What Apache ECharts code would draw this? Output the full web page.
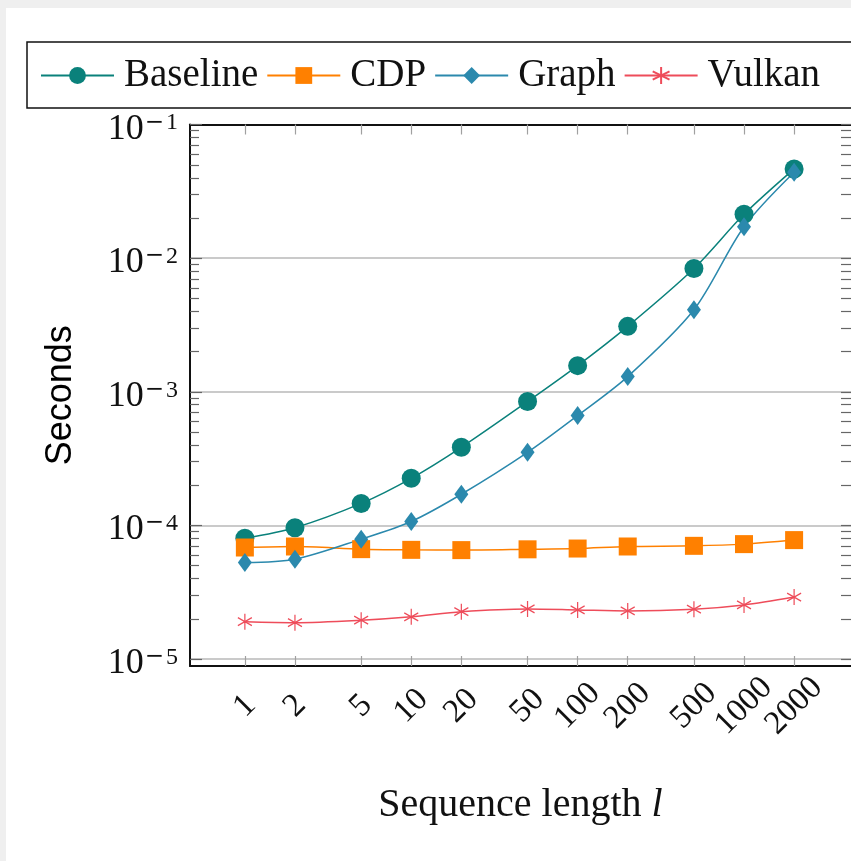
<!DOCTYPE html>
<html>
<head>
    <meta charset="utf-8">
    <title>Sequence length</title>
    <script src="https://cdn.jsdelivr.net/npm/echarts@6/dist/echarts.min.js"></script>
    <style>
        html, body { margin: 0; padding: 0; background: #efefef; }
    </style>
</head>
<body>
    <div id="main" style="width: 851px;height:861px;"></div>
    <script type="text/javascript">
        var seqLength = [1, 2, 5, 10, 20, 50, 100, 200, 500, 1000, 2000];
        var baseline = [8.0e-5, 9.6e-5, 1.46e-4, 2.25e-4, 3.84e-4, 8.45e-4, 1.57e-3, 3.09e-3, 8.37e-3, 2.13e-2, 4.66e-2];
        var cdp      = [6.83e-5, 6.95e-5, 6.64e-5, 6.56e-5, 6.53e-5, 6.62e-5, 6.71e-5, 6.95e-5, 7.03e-5, 7.24e-5, 7.76e-5];
        var graph    = [5.27e-5, 5.58e-5, 7.89e-5, 1.07e-4, 1.71e-4, 3.52e-4, 6.64e-4, 1.30e-3, 4.11e-3, 1.72e-2, 4.40e-2];
        var vulkan   = [1.90e-5, 1.87e-5, 1.95e-5, 2.07e-5, 2.26e-5, 2.37e-5, 2.33e-5, 2.29e-5, 2.36e-5, 2.54e-5, 2.91e-5];
        var names = ['Baseline', 'CDP', 'Graph', 'Vulkan'];
        var decades = [1e-5, 1e-4, 1e-3, 1e-2, 1e-1];

        // minor ticks 2..9 in every decade
        var minorTicks = [];
        for (var d = -5; d < -1; d++) {
            for (var m = 2; m <= 9; m++) {
                minorTicks.push(m * Math.pow(10, d));
            }
        }
        var allTicks = decades.concat(minorTicks);

        var serif = '"Liberation Serif", "DejaVu Serif", serif';
        var colors = ['#0a817b', '#ff8000', '#2b89ad', '#ee4c5a'];

        function pairs(ys) {
            return seqLength.map(function (x, i) { return [x, ys[i]]; });
        }

        var myChart = echarts.init(document.getElementById('main'));

        var xBase = {
            type: 'log',
            logBase: 10,
            min: 0.468,
            max: 4395,
            splitLine: { show: false },
            axisLine: { onZero: false, lineStyle: { color: '#111', width: 2 } },
            axisTick: { inside: true, length: 10, customValues: seqLength, lineStyle: { color: '#a0a0a0', width: 1.2 } }
        };
        var yBase = {
            type: 'log',
            logBase: 10,
            min: 8.86e-6,
            max: 0.1002
        };

        var option = {
            backgroundColor: '#efefef',
            graphic: [{
                type: 'rect',
                z: -10,
                shape: { x: 6, y: 8, width: 860, height: 870 },
                style: { fill: '#fff' }
            }, {
                // legend frame, runs off the right edge like the original
                type: 'rect',
                z: 10,
                shape: { x: 27, y: 42, width: 900, height: 66 },
                style: { fill: 'none', stroke: '#111', lineWidth: 1.5 }
            }],
            color: colors,
            legend: {
                left: 27,
                top: 44,
                padding: [12, 4, 12, 13],
                itemWidth: 73,
                itemHeight: 21,
                itemGap: 8,
                textStyle: { fontFamily: serif, fontSize: 39, color: '#111', padding: [0, 0, 0, 5] },
                data: [
                    { name: 'Baseline' },
                    { name: 'CDP' },
                    { name: 'Graph', textStyle: { padding: [0, 19, 0, 5] } },
                    { name: 'Vulkan' }
                ]
            },
            grid: { left: 190, top: 124.5, right: -2, bottom: 195 },
            xAxis: [
                Object.assign({}, xBase, {
                    position: 'bottom',
                    name: 'Sequence length {i|l}',
                    nameLocation: 'middle',
                    nameGap: 119,
                    nameTextStyle: {
                        fontFamily: serif, fontSize: 40, color: '#111',
                        rich: { i: { fontFamily: serif, fontSize: 40, fontStyle: 'italic', color: '#111' } }
                    },
                    axisLabel: {
                        customValues: seqLength,
                        rotate: 45,
                        align: 'center',
                        verticalAlign: 'middle',
                        margin: 40,
                        fontFamily: serif,
                        fontSize: 33,
                        color: '#111',
                        formatter: function (v) { return String(Math.round(v)); }
                    }
                }),
                Object.assign({}, xBase, {
                    position: 'top',
                    axisLabel: { show: false }
                })
            ],
            yAxis: [
                Object.assign({}, yBase, {
                    position: 'left',
                    name: 'Seconds',
                    nameLocation: 'middle',
                    nameGap: 111,
                    nameRotate: 90,
                    nameTextStyle: { fontFamily: '"Liberation Sans", Arial, sans-serif', fontSize: 36, color: '#000' },
                    axisLine: { show: true, lineStyle: { color: '#111', width: 2 } },
                    axisTick: { inside: true, length: 12, customValues: decades, lineStyle: { color: '#666', width: 1.2 } },
                    splitLine: { show: true, lineStyle: { color: '#b8b8b8', width: 1.5 } },
                    axisLabel: {
                        customValues: decades,
                        margin: 12,
                        padding: [9, 0, 0, 0],
                        color: '#111',
                        formatter: function (v) {
                            return '{b|10}{m|\u2212}{d|' + Math.round(-Math.log10(v)) + '}';
                        },
                        rich: {
                            b: { fontFamily: serif, fontSize: 36, lineHeight: 36, verticalAlign: 'bottom', color: '#111' },
                            m: { fontFamily: '"DejaVu Serif", serif', fontSize: 23, lineHeight: 23, verticalAlign: 'top', padding: [0, 2, 17, 1], color: '#111' },
                            d: { fontFamily: serif, fontSize: 24, lineHeight: 24, verticalAlign: 'top', padding: [0, 0, 16, 0], color: '#111' }
                        }
                    }
                }),
                Object.assign({}, yBase, {
                    position: 'left',
                    axisLine: { show: false },
                    axisLabel: { show: false },
                    splitLine: { show: false },
                    axisTick: { inside: true, length: 9, customValues: minorTicks, lineStyle: { color: '#666', width: 1.2 } }
                }),
                Object.assign({}, yBase, {
                    position: 'right',
                    axisLine: { show: false },
                    axisLabel: { show: false },
                    splitLine: { show: false },
                    axisTick: { inside: true, length: 10, customValues: allTicks, lineStyle: { color: '#666', width: 1.2 } }
                })
            ],
            series: [
                {
                    name: 'Baseline', type: 'line', smooth: 0.3,
                    data: pairs(baseline),
                    symbol: 'circle', symbolSize: 19,
                    lineStyle: { color: colors[0], width: 1.5 },
                    itemStyle: { color: colors[0] }
                },
                {
                    name: 'CDP', type: 'line', smooth: 0.3,
                    data: pairs(cdp),
                    symbol: 'rect', symbolSize: 18,
                    lineStyle: { color: colors[1], width: 1.5 },
                    itemStyle: { color: colors[1] }
                },
                {
                    name: 'Graph', type: 'line', smooth: 0.3,
                    data: pairs(graph),
                    symbol: 'diamond', symbolSize: [14, 19],
                    lineStyle: { color: colors[2], width: 1.5 },
                    itemStyle: { color: colors[2] }
                },
                {
                    name: 'Vulkan', type: 'line', smooth: 0.3,
                    data: pairs(vulkan),
                    symbol: 'path://M0,-7L0,7M-6.06,-3.5L6.06,3.5M-6.06,3.5L6.06,-3.5',
                    symbolSize: [14, 16],
                    lineStyle: { color: colors[3], width: 1.5 },
                    itemStyle: { color: colors[3], borderColor: colors[3], borderWidth: 1.3 }
                }
            ]
        };

        myChart.setOption(option);
    </script>
</body>
</html>
